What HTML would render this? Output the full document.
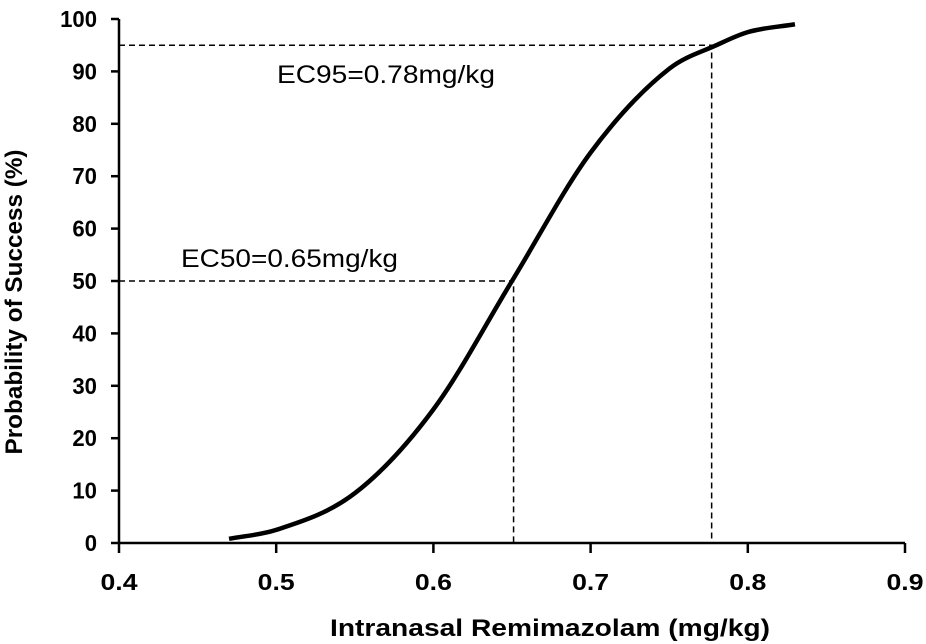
<!DOCTYPE html>
<html><head><meta charset="utf-8"><style>
html,body{margin:0;padding:0;background:#fff;}
svg{display:block;font-family:"Liberation Sans",Arial,sans-serif;}
</style></head><body>
<svg id="chart" width="926" height="644" viewBox="0 0 926 644">
<g id="axes"></g><g id="marks"></g>
<text x="550" y="636" text-anchor="middle" font-size="24" font-weight="bold" textLength="440" lengthAdjust="spacingAndGlyphs">Intranasal Remimazolam (mg/kg)</text>
<text transform="translate(22,302) rotate(-90)" text-anchor="middle" font-size="24" font-weight="bold" textLength="305" lengthAdjust="spacingAndGlyphs">Probability of Success (%)</text>
</svg>
<script>
const doses=[0.47,0.5,0.55,0.6,0.65,0.7,0.75,0.78,0.8,0.83];
const probs=[0.8,2.5,9.5,25.5,50,74.5,90.5,95,97.5,99];
const xTicks=[0.4,0.5,0.6,0.7,0.8,0.9];
const yTicks=[0,10,20,30,40,50,60,70,80,90,100];
const ec50=[0.651,50];
const ec95=[0.777,95];
const NS="http://www.w3.org/2000/svg";
const X=v=>119+(v-0.4)/0.5*786;
const Y=v=>543-v/100*524;
function mk(t,a,p){const e=document.createElementNS(NS,t);for(const k in a)e.setAttribute(k,a[k]);p.appendChild(e);return e;}
const ax=document.getElementById('axes'),mg=document.getElementById('marks');
let e=mk('line',{x1:X(0.4),y1:Y(0),x2:X(0.9),y2:Y(0),stroke:'#000','stroke-width':2.5},ax);


e=mk('line',{x1:X(0.4),y1:Y(0),x2:X(0.4),y2:Y(100),stroke:'#000','stroke-width':2.5},ax);


xTicks.forEach(v=>{
 mk('line',{x1:X(v),y1:Y(0),x2:X(v),y2:Y(0)+10,stroke:'#000','stroke-width':2.5},ax);
 const t=mk('text',{x:X(v),y:590,'text-anchor':'middle','font-size':23,'font-weight':'bold',textLength:37,lengthAdjust:'spacingAndGlyphs'},ax);
 t.textContent=v.toFixed(1);
 
 
});
yTicks.forEach(v=>{
 mk('line',{x1:X(0.4)-8,y1:Y(v),x2:X(0.4),y2:Y(v),stroke:'#000','stroke-width':2.5},ax);
 const s=String(v);
 const t=mk('text',{x:97,y:Y(v)+8,'text-anchor':'end','font-size':23,'font-weight':'bold',textLength:s.length*12.3,lengthAdjust:'spacingAndGlyphs'},ax);
 t.textContent=s;
 
 
});
[ec50,ec95].forEach((p,i)=>{
 const g=mk('path',{d:`M${X(0.4)},${Y(p[1])}H${X(p[0])}V${Y(0)}`,fill:'none',stroke:'#000','stroke-width':1.5,'stroke-dasharray':'6,4'},mg);
 
 
});
// monotone cubic (Fritsch-Carlson) through data points
const px=doses.map(X),py=probs.map(Y),n=px.length;
const dl=[],m=[];
for(let i=0;i<n-1;i++)dl.push((py[i+1]-py[i])/(px[i+1]-px[i]));
m[0]=dl[0];m[n-1]=dl[n-2];
for(let i=1;i<n-1;i++)m[i]=dl[i-1]*dl[i]<=0?0:(dl[i-1]+dl[i])/2;
let d='M'+px[0]+','+py[0];
for(let i=0;i<n-1;i++){
 const h=(px[i+1]-px[i])/3;
 d+=`C${px[i]+h},${py[i]+m[i]*h} ${px[i+1]-h},${py[i+1]-m[i+1]*h} ${px[i+1]},${py[i+1]}`;
}
const c=mk('path',{d:d,fill:'none',stroke:'#000','stroke-width':4.5,'stroke-linejoin':'round'},mg);


let l=mk('text',{x:181,y:267,'font-size':25,textLength:217,lengthAdjust:'spacingAndGlyphs'},mg);l.textContent='EC50=0.65mg/kg';


l=mk('text',{x:277,y:83,'font-size':25,textLength:218,lengthAdjust:'spacingAndGlyphs'},mg);l.textContent='EC95=0.78mg/kg';


</script>
</body></html>
